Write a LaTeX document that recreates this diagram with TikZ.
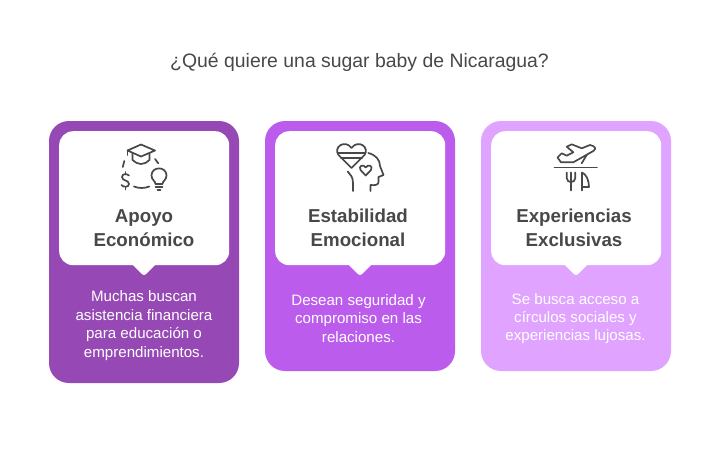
\documentclass[tikz,border=0pt]{standalone}
\usepackage{fontspec}
\setmainfont{Liberation Sans}
\definecolor{pa}{HTML}{9649B5}
\definecolor{pb}{HTML}{BC5CEC}
\definecolor{pc}{HTML}{E0A3FF}
\definecolor{ink}{HTML}{484848}
\definecolor{ico}{HTML}{484848}
\tikzset{
 panel/.style={rounded corners=20pt,minimum width=190pt,inner sep=0pt,anchor=north west,line width=0pt},
 cardbox/.style={fill=white,rounded corners=14pt,minimum width=170pt,minimum height=134pt,inner sep=0pt,anchor=north west},
 tailshape/.style={fill=white,rounded corners=2.5pt},
 head/.style={font=\fontsize{18.7}{24}\selectfont\bfseries,text=ink,align=center,inner sep=0pt},
 body/.style={font=\fontsize{15.1}{18.4}\selectfont,text=white,align=center,inner sep=0pt},
 titletext/.style={font=\fontsize{19.4}{22}\selectfont,text=ink,inner sep=0pt},
 icon/.style={draw=ico,line width=1.7pt,line cap=round,line join=round,fill=none}
}
\begin{document}
\begin{tikzpicture}[x=1pt,y=-1pt]
\useasboundingbox (0,0) rectangle (720,456);
\fill[white] (0,0) rectangle (720,456);
\node[titletext] (title) at (359.5,62) {¿Qué quiere una sugar baby de Nicaragua?};
% panels
\node[panel,fill=pa,minimum height=262pt] (p1) at (49,121) {};
\node[panel,fill=pb,minimum height=250pt] (p2) at (265,121) {};
\node[panel,fill=pc,minimum height=250pt] (p3) at (481,121) {};
% cards
\node[cardbox] (c1) at (59,131) {};
\node[cardbox] (c2) at (275,131) {};
\node[cardbox] (c3) at (491,131) {};
\foreach \x in {144,360,576}{
 \fill[tailshape] (\x-13,263) -- (\x,276) -- (\x+13,263) -- cycle;
}
% headings
\node[head] (h1) at (144,228) {Apoyo\\Económico};
\node[head] (h2) at (358,228) {Estabilidad\\Emocional};
\node[head] (h3) at (574,228) {Experiencias\\Exclusivas};
% bodies
\node[body] (b1) at (144,325.5) {Muchas buscan\\asistencia financiera\\para educación o\\emprendimientos.};
\node[body] (b2) at (358.5,318.5) {Desean seguridad y\\compromiso en las\\relaciones.};
\node[body] (b3) at (575.5,318.5) {Se busca acceso a\\círculos sociales y\\experiencias lujosas.};
% icon 1
\draw[icon] (141,144.5) -- (127.5,150.5) -- (141,156.5) -- (155,150.5) -- cycle;
\draw[icon] (127.5,150.5) -- (127.5,155);
\draw[icon] (132.5,153.5) -- (132.5,160) .. controls (135,162.5) and (138,164) .. (141,164) .. controls (144,164) and (147,162.5) .. (149.5,160) -- (149.5,153.5);
\draw[icon] (124.3,161) -- (122.8,167);
\draw[icon] (155,159) -- (158.3,163.3);
\draw[icon] (134,186.5) .. controls (139,188.5) and (144,188.5) .. (149.3,186.5);
\draw[icon] (129,175.5) .. controls (127,173.5) and (122,173.5) .. (122,177) .. controls (122,181) and (129,180) .. (129,184) .. controls (129,187.5) and (123,187.5) .. (121.5,185);
\draw[icon] (125.5,172) -- (125.5,174) (125.5,187) -- (125.5,189.5);
\draw[icon] (155.5,184) .. controls (155.5,181) and (151.5,180) .. (151.5,175.5) .. controls (151.5,166) and (166.5,166) .. (166.5,175.5) .. controls (166.5,180) and (162.5,181) .. (162.5,184) -- cycle;
\draw[icon] (155.5,187) -- (162.5,187) (157.5,190) -- (160.5,190);
% icon 2
\draw[icon] (351.5,168) -- (338.5,155) .. controls (333,147) and (345,139) .. (351.5,148) .. controls (358,139) and (370,147) .. (364.5,155) -- cycle;
\draw[icon] (338,153) -- (365,153) (341,158) -- (362,158);
\draw[icon] (368.3,153) .. controls (376,155) and (380,160) .. (380,166) -- (383.5,175) -- (378.5,177) -- (378.5,182) .. controls (378.5,185) and (375,185.5) .. (370.5,185) -- (370.5,191);
\draw[icon] (347.7,171.5) .. controls (350,175) and (353,176) .. (353,183) -- (353,191);
\draw[icon] (365.7,175.5) -- (360.5,170) .. controls (358,166) and (363.5,163.5) .. (365.7,167.5) .. controls (368,163.5) and (373.5,166) .. (371,170) -- cycle;
% icon 3
\draw[icon] (554.5,167.5) -- (597,167.5);
\draw[icon] (557.5,157.5) -- (561,162.3) -- (573.3,162.3) -- (593.3,151) .. controls (596.5,149) and (595.5,146) .. (590,145) -- (581.7,148.3) -- (571.7,144.3) -- (566.7,146.7) -- (573.3,152.3) -- (566.7,155.7) -- (561.7,153.3) -- cycle;
\draw[icon] (586.7,155) -- (581.7,163.3);
\draw[icon] (571,172.5) -- (571,190.5) (566.7,172.5) -- (566.7,178) .. controls (566.7,181) and (569,182) .. (571,182) .. controls (573,182) and (575.3,181) .. (575.3,178) -- (575.3,172.5);
\draw[icon] (582,190.5) -- (582,172.5) .. controls (586,174) and (589,180) .. (589,187) -- (582,187);
\end{tikzpicture}
\end{document}
